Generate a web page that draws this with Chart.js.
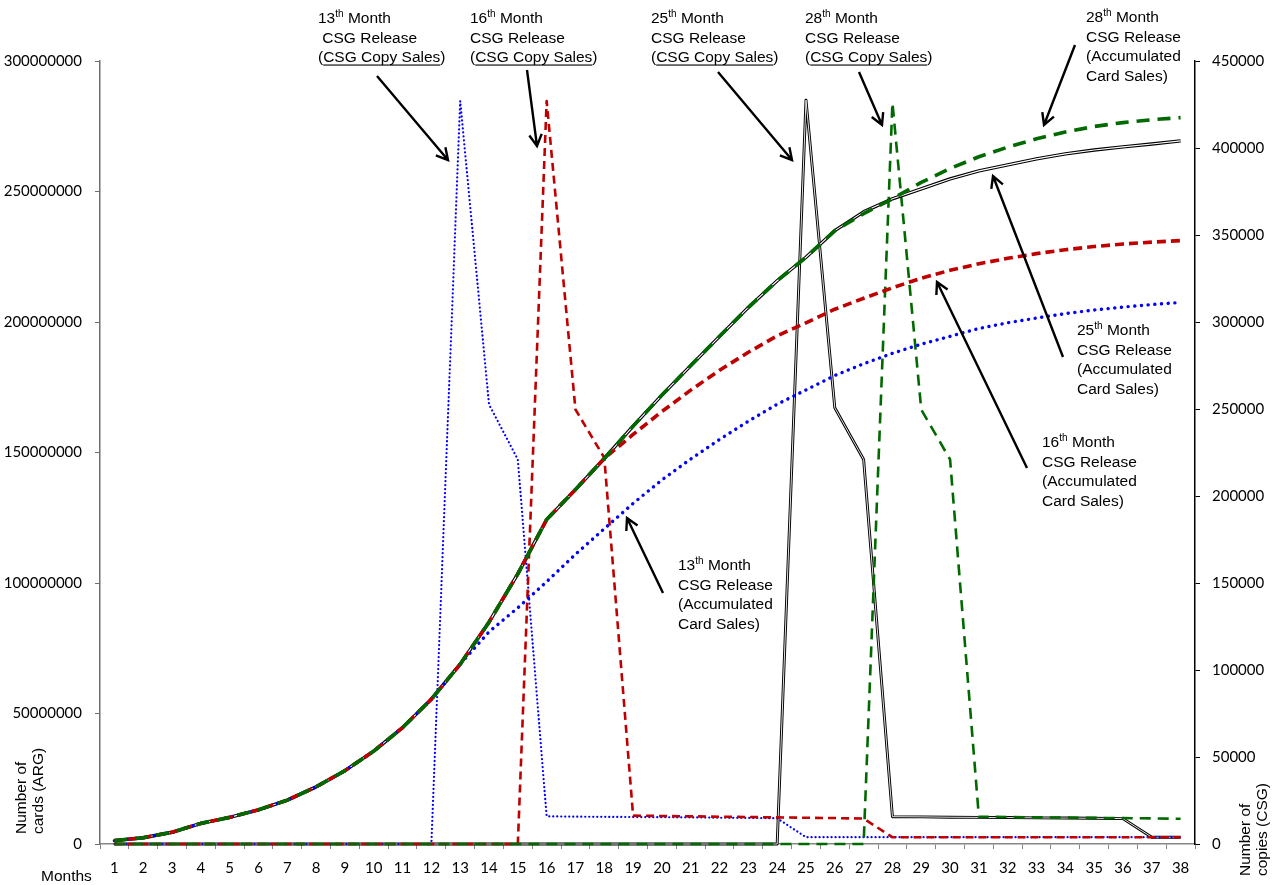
<!DOCTYPE html>
<html>
<head>
<meta charset="utf-8">
<title>Accumulated card sales and CSG copy sales</title>
<script src="https://cdn.jsdelivr.net/npm/chart.js@4.4.1/dist/chart.umd.min.js"></script>
<style>
  html, body { margin: 0; padding: 0; background: #ffffff; }
  #wrap { width: 1282px; height: 885px; position: relative; }
  canvas { display: block; }
</style>
</head>
<body>
<div id="wrap"><canvas id="chart" width="1282" height="885"></canvas></div>
<script>
// Month categories on the x axis
const months = ['1','2','3','4','5','6','7','8','9','10','11','12','13','14','15','16','17','18','19',
  '20','21','22','23','24','25','26','27','28','29','30','31','32','33','34','35','36','37','38'];

// Accumulated card sales (ARG), left axis
const accCards13 = [1300000, 2400000, 4500000, 7900000, 10200000, 13100000, 16800000, 21900000, 28100000,
  35600000, 44600000, 55500000, 68900000, 81300000, 90500000, 100500000, 111000000, 120800000, 130500000,
  139500000, 147500000, 155000000, 162000000, 168500000, 174000000, 179500000, 184000000, 188000000,
  191500000, 194500000, 197500000, 199700000, 201500000, 203200000, 204600000, 205700000, 206700000, 207500000];
const accCards16 = [1300000, 2400000, 4500000, 7900000, 10200000, 13100000, 16800000, 21900000, 28100000,
  35600000, 44600000, 55500000, 68900000, 85000000, 103500000, 124300000, 135800000, 147700000, 156900000,
  165700000, 173900000, 181500000, 188400000, 194700000, 199700000, 204900000, 209100000, 213100000,
  216800000, 219800000, 222300000, 224400000, 226200000, 227700000, 228900000, 229900000, 230600000, 231200000];
const accCards25 = [1300000, 2400000, 4500000, 7900000, 10200000, 13100000, 16800000, 21900000, 28100000,
  35600000, 44600000, 55500000, 68900000, 85000000, 103500000, 124300000, 135800000, 147700000, 160100000,
  172000000, 183300000, 194500000, 205600000, 215800000, 224800000, 235000000, 242200000, 247200000,
  251000000, 254800000, 257900000, 260200000, 262500000, 264400000, 265900000, 267100000, 268200000, 269400000];
const accCards28 = [1300000, 2400000, 4500000, 7900000, 10200000, 13100000, 16800000, 21900000, 28100000,
  35600000, 44600000, 55500000, 68900000, 85000000, 103500000, 124300000, 135800000, 147700000, 160100000,
  172000000, 183300000, 194500000, 205600000, 215800000, 224800000, 235000000, 241500000, 247200000,
  253500000, 258800000, 263300000, 267000000, 270200000, 272800000, 274900000, 276400000, 277500000, 278300000];

// CSG copy sales, right axis
const copies13 = [0, 0, 0, 0, 0, 0, 0, 0, 0, 0, 0, 0, 427000, 252600, 221000, 15900, 15700, 15600, 15500,
  15400, 15300, 15100, 15000, 14800, 3900, 3900, 3900, 3900, 3900, 3900, 3900, 3900, 3900, 3900, 3900, 3900, 3900, 3900];
const copies16 = [0, 0, 0, 0, 0, 0, 0, 0, 0, 0, 0, 0, 0, 0, 0, 427000, 249700, 222000, 16300,
  16100, 15900, 15700, 15500, 15300, 15100, 14900, 14600, 3900, 3900, 3900, 3900, 3900, 3900, 3900, 3900, 3900, 3900, 3900];
const copies25 = [0, 0, 0, 0, 0, 0, 0, 0, 0, 0, 0, 0, 0, 0, 0, 0, 0, 0, 0,
  0, 0, 0, 0, 0, 427500, 250700, 221000, 15700, 15600, 15400, 15300, 15200, 15000, 14900, 14800, 14600, 3900, 3900];
const copies28 = [0, 0, 0, 0, 0, 0, 0, 0, 0, 0, 0, 0, 0, 0, 0, 0, 0, 0, 0,
  0, 0, 0, 0, 0, 0, 0, 0, 426000, 249700, 221000, 15700, 15500, 15300, 15200, 15000, 14900, 14700, 14500];

// Axis ticks
const cardTicks = [0, 50000000, 100000000, 150000000, 200000000, 250000000, 300000000];
const copyTicks = [0, 50000, 100000, 150000, 200000, 250000, 300000, 350000, 400000, 450000];

const BLUE = '#0000ff';
const RED = '#c00000';
const GREEN = '#006a00';
const BLACK = '#000000';

function line(data, axis, color, width, dash, cap, order) {
  return {
    data: data, yAxisID: axis, borderColor: color, backgroundColor: color,
    borderWidth: width, borderDash: dash, borderCapStyle: cap || 'butt',
    borderJoinStyle: 'round', pointRadius: 0, fill: false, tension: 0, order: order,
    clip: 4
  };
}

const datasets = [
  // accumulated card sales
  line(accCards28, 'yCards', GREEN, 3.6, [13, 8], 'butt', 1),
  line(accCards16, 'yCards', RED, 3.6, [9, 5], 'butt', 2),
  line(accCards13, 'yCards', BLUE, 3.4, [0.1, 6.6], 'round', 3),
  line(accCards25, 'yCards', '#ffffff', 1.1, [], 'butt', 4),
  line(accCards25, 'yCards', BLACK, 3.4, [], 'butt', 5),
  // copy sales
  line(copies28, 'yCopies', GREEN, 2.6, [11, 7], 'butt', 6),
  line(copies16, 'yCopies', RED, 2.6, [8, 5], 'butt', 7),
  line(copies13, 'yCopies', BLUE, 2.2, [0.1, 3.9], 'round', 8),
  line(copies25, 'yCopies', '#ffffff', 0.9, [], 'butt', 9),
  line(copies25, 'yCopies', BLACK, 2.9, [], 'butt', 10)
];

const SANS = '"Liberation Sans", Arial, sans-serif';
const TICKFONT = { family: 'Lato, "Open Sans", sans-serif', size: 15 };

// Annotation blocks: text lines made of runs (sup = superscript, u = underline)
const notes = [
  { x: 318, y: 23, lines: [
    [{ t: '13' }, { t: 'th', sup: true }, { t: ' Month' }],
    [{ t: ' CSG Release' }],
    [{ t: '(' }, { t: 'CSG Copy Sales', u: true }, { t: ')' }]] },
  { x: 470, y: 23, lines: [
    [{ t: '16' }, { t: 'th', sup: true }, { t: ' Month' }],
    [{ t: 'CSG Release' }],
    [{ t: '(' }, { t: 'CSG Copy Sales', u: true }, { t: ')' }]] },
  { x: 651, y: 23, lines: [
    [{ t: '25' }, { t: 'th', sup: true }, { t: ' Month' }],
    [{ t: 'CSG Release' }],
    [{ t: '(' }, { t: 'CSG Copy Sales', u: true }, { t: ')' }]] },
  { x: 805, y: 23, lines: [
    [{ t: '28' }, { t: 'th', sup: true }, { t: ' Month' }],
    [{ t: 'CSG Release' }],
    [{ t: '(' }, { t: 'CSG Copy Sales', u: true }, { t: ')' }]] },
  { x: 1086, y: 22, lines: [
    [{ t: '28' }, { t: 'th', sup: true }, { t: ' Month' }],
    [{ t: 'CSG Release' }], [{ t: '(Accumulated' }], [{ t: 'Card Sales)' }]] },
  { x: 1077, y: 335, lines: [
    [{ t: '25' }, { t: 'th', sup: true }, { t: ' Month' }],
    [{ t: 'CSG Release' }], [{ t: '(Accumulated' }], [{ t: 'Card Sales)' }]] },
  { x: 1042, y: 447, lines: [
    [{ t: '16' }, { t: 'th', sup: true }, { t: ' Month' }],
    [{ t: 'CSG Release' }], [{ t: '(Accumulated' }], [{ t: 'Card Sales)' }]] },
  { x: 678, y: 570, lines: [
    [{ t: '13' }, { t: 'th', sup: true }, { t: ' Month' }],
    [{ t: 'CSG Release' }], [{ t: '(Accumulated' }], [{ t: 'Card Sales)' }]] }
];

// Pointer arrows: tail -> head
const arrows = [
  [377, 76, 448, 160],
  [527, 70, 537, 146],
  [718, 72, 792, 160],
  [859, 72, 882, 125],
  [1075, 45, 1044, 125],
  [1063, 357, 993, 176],
  [1027, 468, 937, 282],
  [663, 593, 627, 518]
];

function drawRuns(ctx, runs, x, y) {
  let cx = x;
  for (const r of runs) {
    ctx.font = r.sup ? '10px ' + SANS : '15.5px ' + SANS;
    const w = ctx.measureText(r.t).width;
    ctx.fillText(r.t, cx, r.sup ? y - 6 : y);
    if (r.u) {
      ctx.fillRect(cx, y + 2.5, w, 1.1);
    }
    cx += w;
  }
}

function drawArrow(ctx, x1, y1, x2, y2) {
  const ang = Math.atan2(y2 - y1, x2 - x1);
  const len = 13, spread = 0.5;
  ctx.beginPath();
  ctx.moveTo(x1, y1);
  ctx.lineTo(x2, y2);
  ctx.moveTo(x2 - len * Math.cos(ang - spread), y2 - len * Math.sin(ang - spread));
  ctx.lineTo(x2, y2);
  ctx.lineTo(x2 - len * Math.cos(ang + spread), y2 - len * Math.sin(ang + spread));
  ctx.stroke();
}

const annotations = {
  id: 'annotations',
  afterDraw(chart) {
    const ctx = chart.ctx;
    ctx.save();
    ctx.fillStyle = '#000';
    ctx.textBaseline = 'alphabetic';
    ctx.textAlign = 'left';
    for (const n of notes) {
      n.lines.forEach((runs, i) => drawRuns(ctx, runs, n.x, n.y + i * 19.5));
    }
    ctx.strokeStyle = '#000';
    ctx.lineWidth = 2.4;
    ctx.lineCap = 'butt';
    ctx.lineJoin = 'miter';
    for (const a of arrows) drawArrow(ctx, a[0], a[1], a[2], a[3]);

    // axis titles
    ctx.font = '15.5px ' + SANS;
    ctx.fillText('Months', 41, 881);
    ctx.save();
    ctx.translate(26, 834);
    ctx.rotate(-Math.PI / 2);
    ctx.fillText('Number of', 0, 0);
    ctx.fillText('cards (ARG)', 0, 17);
    ctx.restore();
    ctx.save();
    ctx.translate(1250, 876);
    ctx.rotate(-Math.PI / 2);
    ctx.fillText('Number of', 0, 0);
    ctx.fillText('copies (CSG)', 0, 17);
    ctx.restore();
    ctx.restore();
  }
};

new Chart(document.getElementById('chart'), {
  type: 'line',
  data: { labels: months, datasets: datasets },
  plugins: [annotations],
  options: {
    responsive: false,
    animation: false,
    events: [],
    layout: { padding: { top: 61, left: 0, right: 0, bottom: 0 } },
    plugins: { legend: { display: false }, tooltip: { enabled: false }, title: { display: false } },
    scales: {
      x: {
        type: 'category',
        offset: true,
        grid: { offset: true, drawOnChartArea: false, drawTicks: true, tickLength: 5, color: '#868686', lineWidth: 1 },
        border: { color: '#868686', width: 1.5 },
        ticks: { font: TICKFONT, color: '#000', padding: 10, maxRotation: 0, autoSkip: false },
        afterFit(s) { s.height = 41; }
      },
      yCards: {
        position: 'left',
        min: 0, max: 300000000,
        afterBuildTicks(s) { s.ticks = cardTicks.map(v => ({ value: v })); },
        grid: { drawOnChartArea: false, drawTicks: true, tickLength: 5, color: '#6e6e6e' },
        border: { color: '#6e6e6e', width: 1.5 },
        ticks: { font: TICKFONT, color: '#000', padding: 13, callback: v => String(v) },
        afterFit(s) { s.width = 100; }
      },
      yCopies: {
        position: 'right',
        min: 0, max: 450000,
        afterBuildTicks(s) { s.ticks = copyTicks.map(v => ({ value: v })); },
        grid: { drawOnChartArea: false, drawTicks: true, tickLength: 5, color: '#000' },
        border: { color: '#000', width: 1.5 },
        ticks: { font: TICKFONT, color: '#000', padding: 12, callback: v => String(v) },
        afterFit(s) { s.width = 87; }
      }
    }
  }
});
</script>
</body>
</html>
